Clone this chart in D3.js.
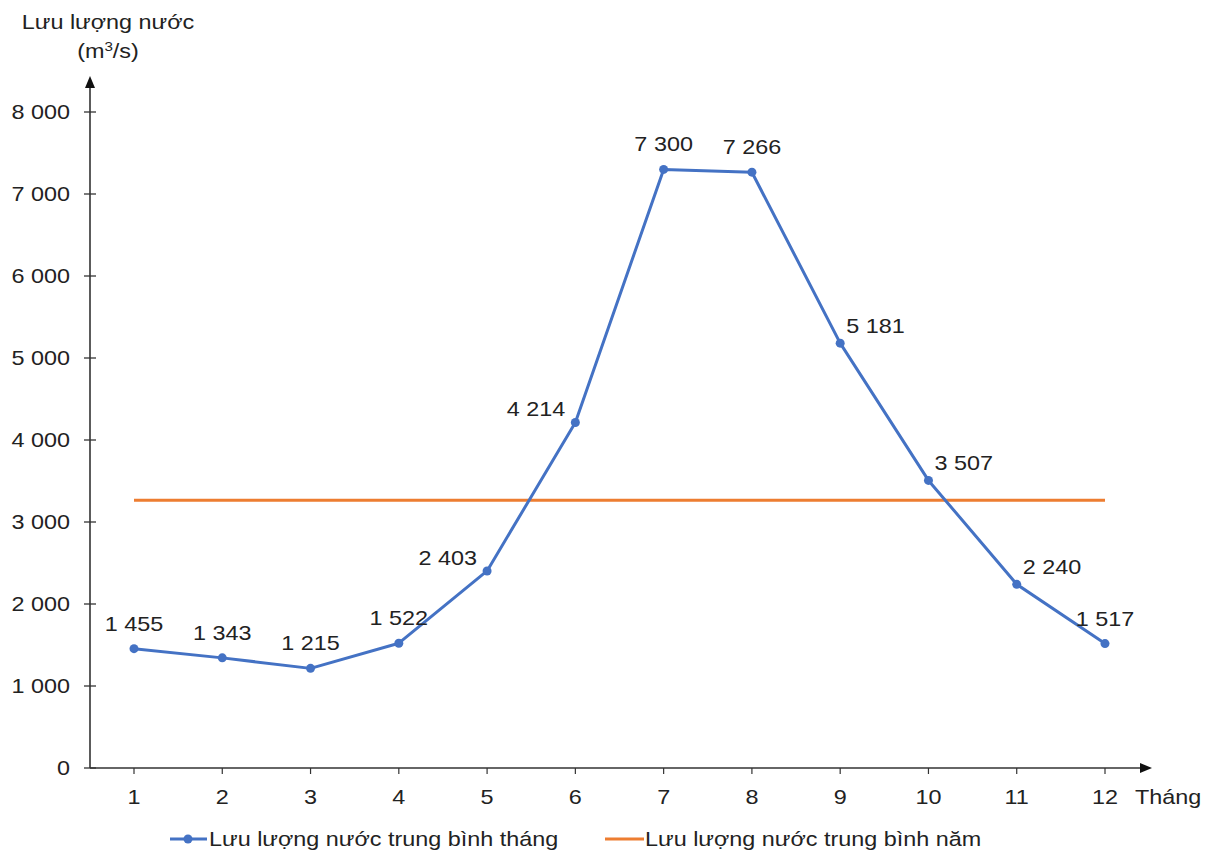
<!DOCTYPE html>
<html><head><meta charset="utf-8">
<script src="https://cdn.jsdelivr.net/npm/d3@7"></script>
<style>body{margin:0;background:#fff}svg{display:block;font-family:"Liberation Sans",Arial,sans-serif}</style>
</head><body><svg id="c" width="1211" height="854"></svg>
<script>
const months = [1,2,3,4,5,6,7,8,9,10,11,12];
const monthlyFlow = [1455,1343,1215,1522,2403,4214,7300,7266,5181,3507,2240,1517];
const annualAverage = 3264;
const yTicks = [0,1000,2000,3000,4000,5000,6000,7000,8000];
const labelPos = ["top","top","top","top","left","left","top","top","right","right","right","top"];
const seriesNames = ["Lưu lượng nước trung bình tháng","Lưu lượng nước trung bình năm"];

const svg = d3.select("#c");
const blue = "#4472C4", orange = "#ED7D31", axisC = "#333";
const fmt = v => d3.format(",")(v).replace(/,/g," ");
const FS = 20, SX = 1.17;
function txt(parent, x, y, s, anchor){
  const g = parent.append("g").attr("transform",`translate(${x},${y}) scale(${SX},1)`);
  return g.append("text").attr("text-anchor",anchor||"start").attr("font-size",FS).attr("fill","#222").text(s);
}

const x = d3.scalePoint().domain(months).range([134,1105]);
const y = d3.scaleLinear().domain([0,8000]).range([768,112]);

// axes
const ax0 = 90;
svg.append("line").attr("x1",ax0).attr("x2",ax0).attr("y1",y(0)).attr("y2",86).attr("stroke",axisC).attr("stroke-width",1.6);
svg.append("path").attr("d",`M${ax0-5},88 L${ax0+5},88 L${ax0},76 Z`).attr("fill","#111");
svg.append("line").attr("x1",ax0).attr("x2",1142).attr("y1",y(0)).attr("y2",y(0)).attr("stroke",axisC).attr("stroke-width",1.6);
svg.append("path").attr("d",`M1140,${y(0)-5} L1140,${y(0)+5} L1152,${y(0)} Z`).attr("fill","#111");

const yAxis = svg.append("g");
yTicks.forEach(t=>{
  yAxis.append("line").attr("x1",ax0-6).attr("x2",ax0+6).attr("y1",y(t)).attr("y2",y(t)).attr("stroke",axisC).attr("stroke-width",1.3);
  txt(yAxis, 70, y(t)+7, fmt(t), "end");
});
const xAxis = svg.append("g");
months.forEach(m=>{
  xAxis.append("line").attr("x1",x(m)).attr("x2",x(m)).attr("y1",y(0)).attr("y2",y(0)+6).attr("stroke",axisC).attr("stroke-width",1.2);
  txt(xAxis, x(m), 804, m, "middle");
});
txt(svg, 1135, 804, "Tháng", "start");

// axis title
txt(svg, 108, 29, "Lưu lượng nước", "middle");
const t2 = txt(svg, 108, 58, "", "middle");
t2.append("tspan").text("(m");
t2.append("tspan").attr("font-size",13).attr("dy",-7).text("3");
t2.append("tspan").attr("dy",7).text("/s)");

// annual average
svg.append("line").attr("x1",x(1)).attr("x2",x(12)).attr("y1",y(annualAverage)).attr("y2",y(annualAverage))
  .attr("stroke",orange).attr("stroke-width",3);

// monthly line
const data = months.map((m,i)=>({m,v:monthlyFlow[i],p:labelPos[i]}));
svg.append("path").datum(data).attr("fill","none").attr("stroke",blue).attr("stroke-width",3)
  .attr("stroke-linejoin","round").attr("d",d3.line().x(d=>x(d.m)).y(d=>y(d.v)));
svg.selectAll(".pt").data(data).join("circle").attr("cx",d=>x(d.m)).attr("cy",d=>y(d.v)).attr("r",4.5).attr("fill",blue);

const lblG = svg.append("g");
data.forEach(d=>{
  const lx = d.p==="left"? x(d.m)-10 : d.p==="right"? x(d.m)+6 : x(d.m);
  const ly = d.p==="left"? y(d.v)-6 : d.p==="right"? y(d.v)-10 : y(d.v)-18;
  txt(lblG, lx, ly, fmt(d.v), d.p==="left"?"end": d.p==="right"?"start":"middle");
});

// legend
const lg = svg.append("g");
lg.append("line").attr("x1",170).attr("x2",207).attr("y1",839).attr("y2",839).attr("stroke",blue).attr("stroke-width",3);
lg.append("circle").attr("cx",188).attr("cy",839).attr("r",4.5).attr("fill",blue);
txt(lg, 209, 846, seriesNames[0], "start");
lg.append("line").attr("x1",605).attr("x2",644).attr("y1",839).attr("y2",839).attr("stroke",orange).attr("stroke-width",3);
txt(lg, 645, 846, seriesNames[1], "start");
</script></body></html>
